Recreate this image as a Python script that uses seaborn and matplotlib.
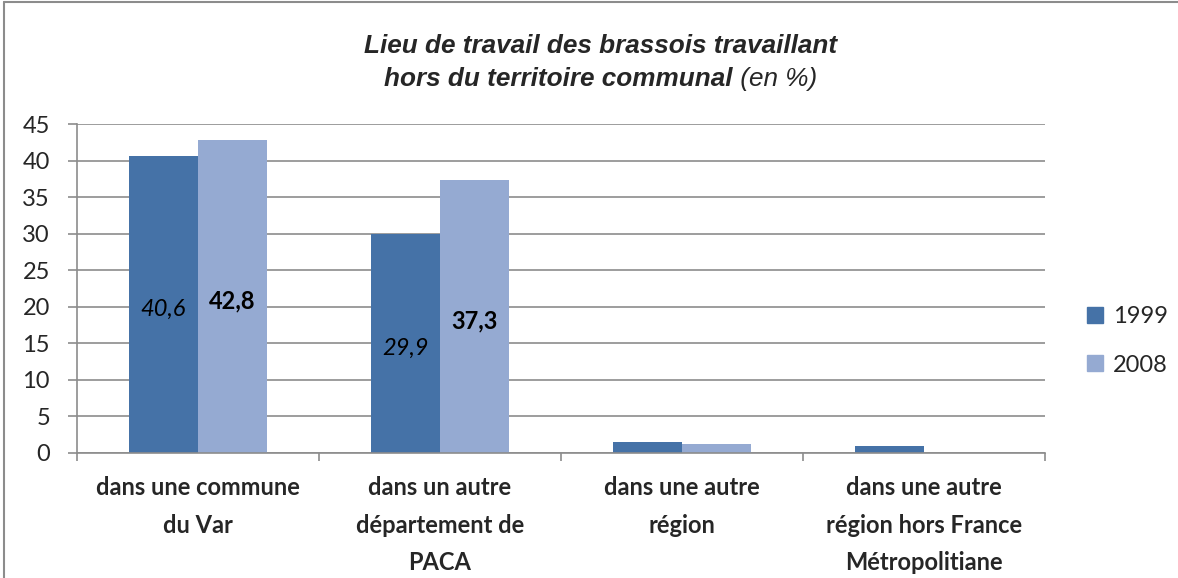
import matplotlib
matplotlib.use('Agg')
import matplotlib.pyplot as plt
import pandas as pd
import seaborn as sb
from matplotlib.lines import Line2D

categories = [
	'dans une commune\ndu Var',
	'dans un autre\ndépartement de\nPACA',
	'dans une autre\nrégion',
	'dans une autre\nrégion hors France\nMétropolitiane',
]
years = ['1999', '2008']
values_1999 = [40.6, 29.9, 1.4, 0.9]
values_2008 = [42.8, 37.3, 1.2, 0.0]
# only the two first groups carry a label in the original
labelled = [True, True, False, False]

colors = {'1999': '#4572a7', '2008': '#95aad2'}
grid_col = '#8c8c8c'


def main():
	sb.set_style('white')
	plt.rcParams['font.family'] = ['Lato', 'DejaVu Sans']

	df = pd.DataFrame({
		'cat': categories * 2,
		'year': [years[0]] * len(categories) + [years[1]] * len(categories),
		'val': values_1999 + values_2008,
	})

	fig = plt.figure(figsize=(11.78, 5.78), dpi=100)
	ax = fig.add_axes([0.0654, 0.2168, 0.8216, 0.5682])

	sb.barplot(
		data=df, x='cat', y='val', hue='year', ax=ax,
		palette=colors, width=0.57, gap=0, saturation=1,
		edgecolor='none', linewidth=0, legend=True
	)

	ax.set_ylim(0, 45)
	ax.set_xlim(-0.5, len(categories) - 0.5)
	ax.set_yticks(range(0, 46, 5))
	ax.set_axisbelow(True)
	ax.yaxis.grid(True, color=grid_col, linewidth=1.2)
	ax.xaxis.grid(False)
	for side in ('top', 'right'):
		ax.spines[side].set_visible(False)
	for side in ('left', 'bottom'):
		ax.spines[side].set_color(grid_col)
		ax.spines[side].set_linewidth(1.2)

	ax.set_xlabel('')
	ax.set_ylabel('')
	ax.tick_params(axis='y', direction='out', length=6.5, width=1.2,
		color=grid_col, labelsize=17, pad=13, left=True)
	ax.tick_params(axis='x', which='major', length=0, pad=17)
	ax.set_xticks([i - 0.5 for i in range(len(categories) + 1)], minor=True)
	ax.tick_params(axis='x', which='minor', direction='out', length=6,
		width=1.2, color=grid_col, bottom=True)
	ax.set_xticklabels(categories, fontsize=17, fontweight='bold',
		linespacing=1.75, va='top')

	# value labels in the middle of the bars
	bars_1999 = ax.containers[0]
	bars_2008 = ax.containers[1]
	for i, ok in enumerate(labelled):
		if not ok:
			continue
		for bar, vals, style, weight in (
				(bars_1999[i], values_1999, 'italic', 'normal'),
				(bars_2008[i], values_2008, 'normal', 'bold')):
			ax.text(
				bar.get_x() + bar.get_width() / 2, vals[i] / 2 - 0.6,
				f'{vals[i]:.1f}'.replace('.', ','),
				ha='center', va='center', fontsize=17,
				fontstyle=style, fontweight=weight, color='black')

	handles = [plt.Rectangle((0, 0), 1, 1, color=colors[y]) for y in years]
	ax.legend(
		handles, years, loc='center left', bbox_to_anchor=(0.923, 0.41),
		bbox_transform=fig.transFigure, frameon=False, fontsize=17,
		handlelength=0.68, handleheight=0.68, handletextpad=0.4,
		labelspacing=1.15, borderpad=0, borderaxespad=0)

	# title: first line bold italic, second line bold italic + plain italic
	tfont = ['Liberation Sans', 'DejaVu Sans']
	tsize = 18.8
	fig.text(0.51, 0.921, 'Lieu de travail des brassois travaillant',
		ha='center', va='center', fontsize=tsize, fontstyle='italic',
		fontweight='bold', family=tfont)
	fig.canvas.draw()
	renderer = fig.canvas.get_renderer()
	part_a = fig.text(0, 0.864, 'hors du territoire communal',
		ha='left', va='center', fontsize=tsize, fontstyle='italic',
		fontweight='bold', family=tfont)
	part_b = fig.text(0, 0.864, ' (en %)',
		ha='left', va='center', fontsize=tsize, fontstyle='italic',
		fontweight='normal', family=tfont)
	wa = part_a.get_window_extent(renderer).width / fig.bbox.width
	wb = part_b.get_window_extent(renderer).width / fig.bbox.width
	x0 = 0.51 - (wa + wb) / 2
	part_a.set_x(x0)
	part_b.set_x(x0 + wa)

	# outer chart frame (only top and left visible in the original)
	fig.add_artist(Line2D([0.0035, 1.0], [0.996, 0.996],
		transform=fig.transFigure, color='#8c8c8c', linewidth=1.5))
	fig.add_artist(Line2D([0.0035, 0.0035], [0.0, 0.996],
		transform=fig.transFigure, color='#8c8c8c', linewidth=1.5))

	fig.savefig('out.png', dpi=100)


if __name__ == '__main__':
	main()
